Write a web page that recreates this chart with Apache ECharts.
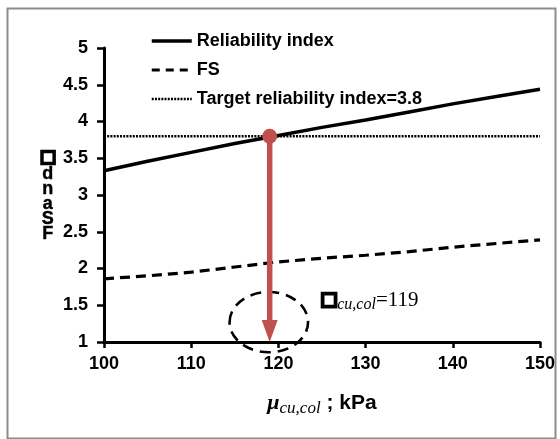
<!DOCTYPE html>
<html>
<head>
<meta charset="utf-8">
<script src="https://cdn.jsdelivr.net/npm/echarts@6/dist/echarts.min.js"></script>
<style>
  html, body { margin: 0; padding: 0; background: #fff; }
  #chart { width: 560px; height: 439px; }
</style>
</head>
<body>
<div id="chart"></div>
<script>
// Undrained shear strength of the column (kPa)
const strength = [100, 105, 110, 115, 120, 125, 130, 135, 140, 145, 150];
// Reliability index at each strength
const reliability = [3.33, 3.46, 3.58, 3.70, 3.81, 3.92, 4.02, 4.13, 4.24, 4.34, 4.44];
// Factor of safety at each strength
const factorOfSafety = [1.86, 1.90, 1.95, 2.02, 2.09, 2.14, 2.18, 2.23, 2.29, 2.34, 2.39];
// Target reliability index
const targetBeta = 3.8;
const targetRange = [100, 150];
const requiredStrength = 119;
const axisBottom = 1;
// Dashed ring around the answer: centre x, centre y, half-width, half-height (data units)
const ring = [118.9, 1.27, 4.5, 0.41];
// Answer label anchor (data units)
const answerAnchor = [124.8, 1.57];

const pair = (xs, ys) => xs.map((x, i) => [x, ys[i]]);
const RED = '#c0504d';
const SOLID = { color: '#000', width: 3.5 };
const DASHED = { color: '#000', width: 3.2, type: [10, 6] };
const DOTTED = { color: '#000', width: 2.4, type: [2, 1.2] };
const boxGlyph = { fontFamily: '"DejaVu Sans", sans-serif', fontWeight: 'bold', textBorderColor: '#000', textBorderWidth: 2.6 };

const chart = echarts.init(document.getElementById('chart'), null, { renderer: 'canvas' });
chart.setOption({
  animation: false,
  backgroundColor: '#fff',
  grid: { left: 104, right: 20, top: 48, bottom: 97, containLabel: false },
  legend: {
    orient: 'vertical',
    left: 145,
    top: 27,
    itemWidth: 40,
    itemHeight: 14,
    itemGap: 11,
    itemStyle: { opacity: 0 },
    data: [
      { name: 'Reliability index', lineStyle: { width: 3.5, type: 'solid' } },
      { name: 'FS', lineStyle: { width: 3, type: [8, 6] } },
      { name: 'Target reliability index=3.8', lineStyle: { width: 2.4, type: [2, 1.2] } }
    ],
    textStyle: { fontFamily: '"Liberation Sans", Arial, sans-serif', fontWeight: 'bold', fontSize: 18, color: '#000' }
  },
  xAxis: {
    type: 'value', min: 100, max: 150, interval: 10,
    axisLine: { lineStyle: { color: '#000', width: 3 } },
    axisTick: { length: 6, lineStyle: { color: '#000', width: 2.5 } },
    axisLabel: { margin: 13, color: '#000', fontFamily: '"Liberation Sans", Arial, sans-serif', fontWeight: 'bold', fontSize: 18 },
    splitLine: { show: false },
    name: '{mu|μ}{sub|cu,col}{unit| ; kPa}',
    nameLocation: 'middle',
    nameGap: 48,
    nameTextStyle: {
      rich: {
        mu: { fontFamily: '"Liberation Serif", "Times New Roman", serif', fontWeight: 'bold', fontStyle: 'italic', fontSize: 22, color: '#000' },
        sub: { fontFamily: '"Liberation Serif", "Times New Roman", serif', fontStyle: 'italic', fontSize: 17, color: '#000', verticalAlign: 'bottom', padding: [10, 0, 0, 0] },
        unit: { fontFamily: '"Liberation Sans", Arial, sans-serif', fontWeight: 'bold', fontSize: 21, color: '#000' }
      }
    }
  },
  yAxis: {
    type: 'value', min: 1, max: 5, interval: 0.5,
    axisLine: { show: true, lineStyle: { color: '#000', width: 3 } },
    axisTick: { show: true, length: 7, lineStyle: { color: '#000', width: 2.5 } },
    axisLabel: { margin: 16, color: '#000', fontFamily: '"Liberation Sans", Arial, sans-serif', fontWeight: 'bold', fontSize: 18 },
    splitLine: { show: false },
    name: '{b|□}\nd\nn\na\nS\nF',
    nameLocation: 'middle',
    nameRotate: 0,
    nameGap: 52,
    nameTextStyle: {
      color: '#000', fontFamily: '"Liberation Sans", Arial, sans-serif', fontWeight: 'bold',
      fontSize: 18, lineHeight: 15, align: 'center', textBorderColor: '#000', textBorderWidth: 0.4,
      rich: {
        b: Object.assign({ fontSize: 17, lineHeight: 18, color: '#000' }, boxGlyph)
      }
    }
  },
  graphic: [{
    type: 'rect', left: 5, top: 6, z: -1,
    shape: { width: 548, height: 430 },
    style: { fill: 'none', stroke: '#8c8c8c', lineWidth: 2 }
  }],
  series: [
    {
      name: 'Reliability index', type: 'line', data: pair(strength, reliability),
      symbol: 'none', lineStyle: SOLID, itemStyle: { color: '#000' }, z: 3
    },
    {
      name: 'FS', type: 'line', data: pair(strength, factorOfSafety),
      symbol: 'none', lineStyle: DASHED, itemStyle: { color: '#000' }, z: 3
    },
    {
      name: 'Target reliability index=3.8', type: 'line',
      data: [[targetRange[0], targetBeta], [targetRange[1], targetBeta]],
      symbol: 'none', lineStyle: DOTTED, itemStyle: { color: '#000' }, z: 2
    },
    {
      // drop arrow from the target crossing down to the strength axis
      type: 'custom', clip: false, z: 5, silent: true,
      data: [[requiredStrength, targetBeta, axisBottom]],
      renderItem: function (params, api) {
        const top = api.coord([api.value(0), api.value(1)]);
        const tip = api.coord([api.value(0), api.value(2)]);
        const headLen = 22, headHalf = 8;
        return {
          type: 'group',
          children: [
            { type: 'line', shape: { x1: top[0], y1: top[1], x2: tip[0], y2: tip[1] - headLen + 2 },
              style: { stroke: RED, lineWidth: 5.5 } },
            { type: 'polygon', shape: { points: [[tip[0] - headHalf, tip[1] - headLen], [tip[0] + headHalf, tip[1] - headLen], [tip[0], tip[1]]] },
              style: { fill: RED } },
            { type: 'circle', shape: { cx: top[0], cy: top[1], r: 7.5 }, style: { fill: RED } }
          ]
        };
      }
    },
    {
      // dashed ring and the answer label
      type: 'custom', clip: false, z: 4, silent: true,
      data: [ring.concat(answerAnchor)],
      renderItem: function (params, api) {
        const c = api.coord([api.value(0), api.value(1)]);
        const size = api.size([api.value(2), api.value(3)]);
        const a = api.coord([api.value(4), api.value(5)]);
        return {
          type: 'group',
          children: [
            { type: 'ellipse', shape: { cx: c[0], cy: c[1], rx: size[0], ry: size[1] },
              style: { fill: null, stroke: '#000', lineWidth: 2.6, lineDash: [11, 7] } },
            { type: 'text', x: a[0], y: a[1],
              style: {
                text: '{b|□}{s|cu,col}{v|=' + requiredStrength + '}',
                verticalAlign: 'middle', align: 'left',
                rich: {
                  b: { font: 'bold 18px "DejaVu Sans", sans-serif', fill: '#000', stroke: '#000', lineWidth: 2.8 },
                  s: { font: 'italic 16px "Liberation Serif", "Times New Roman", serif', fill: '#000', padding: [10, 0, 0, 0], verticalAlign: 'bottom' },
                  v: { font: '21px "Liberation Serif", "Times New Roman", serif', fill: '#000' }
                }
              } }
          ]
        };
      }
    }
  ]
});
</script>
</body>
</html>
